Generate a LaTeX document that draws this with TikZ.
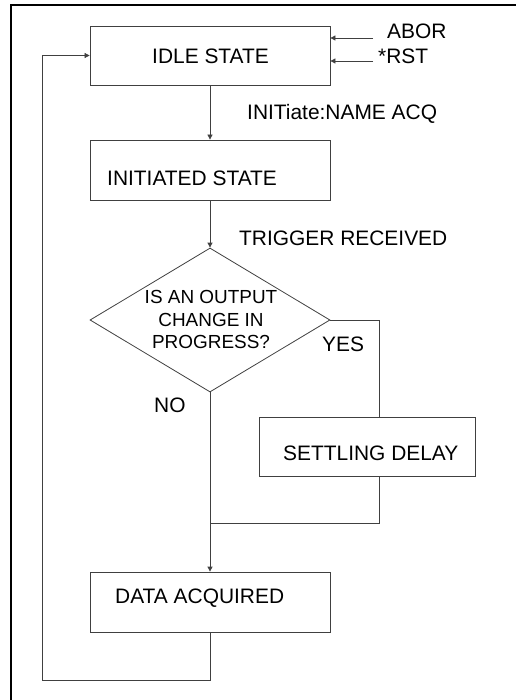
\documentclass[tikz,border=0pt]{standalone}
\usepackage{fontspec}
\setmainfont{Liberation Sans}
\usetikzlibrary{shapes.geometric,arrows.meta}
\begin{document}
\begin{tikzpicture}[x=1bp,y=-1bp,
  box/.style={draw=black!75,line width=0.8bp,rectangle,minimum width=240bp,minimum height=60bp,inner sep=0pt},
  wire/.style={draw=black!75,line width=0.8bp},
  arr/.style={wire,-{Triangle[length=5bp,width=5bp]}},
  txt/.style={font=\fontsize{21}{25}\selectfont,inner sep=0pt,anchor=base west},
  dtxt/.style={font=\fontsize{19}{23}\selectfont,inner sep=0pt,anchor=base}]
\useasboundingbox (0,0) rectangle (516,700);
\draw[line width=2bp,black] (11,700) -- (11,5) -- (516,5);
% boxes
\node[box,minimum height=59bp] (idle) at (210,55.5) {};
\node[box] (init) at (210,170) {};
\node[draw=black!75,line width=0.8bp,diamond,minimum width=240bp,minimum height=144bp,inner sep=0pt] (dec) at (210,320) {};
\node[box,minimum width=216bp,minimum height=59bp] (settle) at (367,446.5) {};
\node[box] (data) at (210,602) {};
% texts
\node[txt] (tidle) at (152,64) {IDLE STATE};
\node[txt] (tinit) at (107,185) {INITIATED STATE};
\node[txt] (tsettle) at (283,460) {SETTLING DELAY};
\node[txt] (tdata) at (115,603) {DATA ACQUIRED};
\node[dtxt] (d1) at (211,303) {IS AN OUTPUT};
\node[dtxt] (d2) at (211,326) {CHANGE IN};
\node[dtxt] (d3) at (211,348) {PROGRESS?};
\node[txt] (tabor) at (387,39) {ABOR};
\node[txt] (trst) at (378,64) {*RST};
\node[txt] (tinitiate) at (247,120) {INITiate:NAME ACQ};
\node[txt] (ttrig) at (239,245) {TRIGGER RECEIVED};
\node[txt] (tyes) at (322,351) {YES};
\node[txt] (tno) at (154,412) {NO};
% coordinates
\coordinate (a1) at (373,38);
\coordinate (a2) at (373,61);
\coordinate (yx) at (379,0);
\coordinate (join) at (210,523);
\coordinate (bot) at (42,680);
% connectors
\draw[arr] (a1) -- (a1 -| idle.east);
\draw[arr] (a2) -- (a2 -| idle.east);
\draw[arr] (idle.south) -- (init.north);
\draw[arr] (init.south) -- (dec.north);
\draw[wire] (dec.east) -| (settle.north -| yx);
\draw[wire] (settle.south -| yx) |- (join);
\draw[arr] (dec.south) -- (data.north);
\draw[arr] (data.south) |- (bot) |- (idle.west);
\end{tikzpicture}
\end{document}
